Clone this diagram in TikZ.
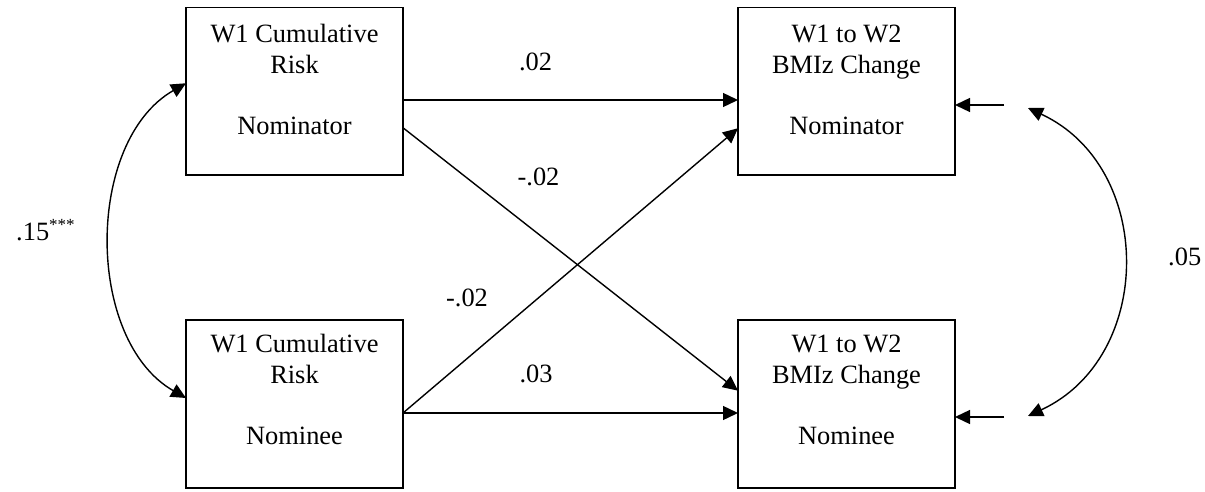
\documentclass[tikz,border=0pt]{standalone}
\usepackage{fontspec}
\setmainfont{Liberation Serif}
\usetikzlibrary{arrows.meta,calc}

\begin{document}
\begin{tikzpicture}[x=1pt,y=-1pt,
  box/.style={draw, line width=1.7pt, minimum width=217pt, minimum height=168pt,
    inner sep=0pt, outer sep=0pt},
  boxtext/.style={align=center, inner sep=0pt, anchor=north,
    font=\fontsize{26.4}{30.4}\selectfont},
  coef/.style={inner sep=0pt, anchor=base, font=\fontsize{26.4}{30.4}\selectfont},
  effect/.style={line width=1.4pt, -{Triangle[length=15pt,width=14pt]}},
  covar/.style={line width=1.4pt, {Triangle[length=15pt,width=14pt]}-{Triangle[length=15pt,width=14pt]}},
]
\useasboundingbox (0,0) rectangle (1205,492);

% observed variables
\node[box, minimum height=167.5pt] (lt) at (294.5,91.25) {};
\node[box] (lb) at (294.5,404) {};
\node[box, minimum height=167.5pt] (rt) at (846.5,91.25) {};
\node[box] (rb) at (846.5,404) {};

\node[boxtext] (ltx) at ($(lt.north)+(0,13.9)$) {\strut W1 Cumulative\\Risk\\[30.4pt]Nominator};
\node[boxtext] (lbx) at ($(lb.north)+(0,11.4)$) {\strut W1 Cumulative\\Risk\\[30.4pt]Nominee};
\node[boxtext] (rtx) at ($(rt.north)+(0,13.9)$) {\strut W1 to W2\\BMIz Change\\[30.4pt]Nominator};
\node[boxtext] (rbx) at ($(rb.north)+(0,11.4)$) {\strut W1 to W2\\BMIz Change\\[30.4pt]Nominee};

% regression paths
\draw[effect] ($(lt.east)+(0,8.75)$) -- ($(rt.west)+(0,8.75)$);
\draw[effect] ($(lt.east)+(0,36.5)$) -- ($(rb.west)+(0,-13.3)$);
\draw[effect] ($(lb.east)+(0,9)$) -- ($(rt.west)+(0,37)$);
\draw[effect] ($(lb.east)+(0,9)$) -- ($(rb.west)+(0,9)$);

\node[coef] (b1) at (535.6,70.7) {.02};
\node[coef] (b2) at (538.5,185.7) {-.02};
\node[coef] (b3) at (467,306.7) {-.02};
\node[coef] (b4) at (536,382.7) {.03};

% covariance of the predictors
\draw[covar] ($(lt.west)+(0,-8)$) .. controls +(-101,58) and +(-101,-58) .. ($(lb.west)+(0,-6)$);
\node[coef, anchor=base west] (r1) at (16,240.7)
  {.15{\fontsize{17}{19}\selectfont\raisebox{10.5pt}{***}}};

% residuals of the outcomes and their covariance
\coordinate (e1) at ($(rt.east)+(49,13.75)$);
\coordinate (e2) at ($(rb.east)+(49,13)$);
\draw[effect] (e1) -- ($(rt.east)+(0,13.75)$);
\draw[effect] (e2) -- ($(rb.east)+(0,13)$);
\coordinate (c1) at (1028,108);
\coordinate (c2) at (1028,416);
\draw[covar] (c1) .. controls +(127,59) and +(127,-59) .. (c2);
\node[coef, anchor=base west] (r2) at (1168,265) {.05};
\end{tikzpicture}
\end{document}
